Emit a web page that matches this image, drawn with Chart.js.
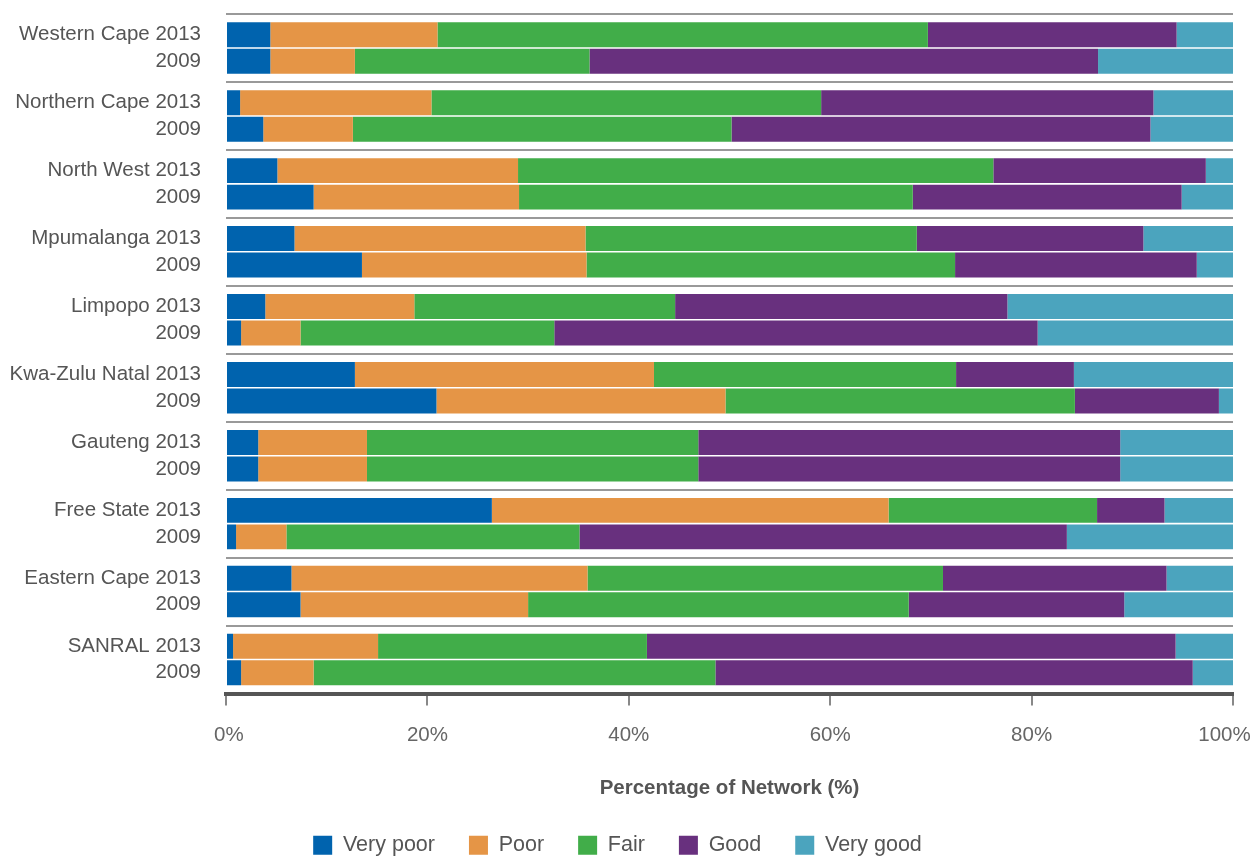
<!DOCTYPE html>
<html>
<head>
<meta charset="utf-8">
<script src="https://cdn.jsdelivr.net/npm/chart.js@4"></script>
<style>
  html, body { margin: 0; padding: 0; background: #fff; }
  #wrap { width: 1253px; height: 856px; }
</style>
</head>
<body>
<div id="wrap"><canvas id="chart" width="1253" height="856"></canvas></div>
<script>
    // === Data ===
    const regions = ["Western Cape", "Northern Cape", "North West", "Mpumalanga", "Limpopo",
      "Kwa-Zulu Natal", "Gauteng", "Free State", "Eastern Cape", "SANRAL"];
    const years = ["2013", "2009"];
    const conditions = ["Very poor", "Poor", "Fair", "Good", "Very good"];
    const colors = ["#0063ae", "#e59546", "#41ad49", "#68307e", "#4ba4be"];

    const veryPoor2013 = [4.4, 1.4, 5.1, 6.8, 3.9, 12.8, 3.2, 26.4, 6.5, 0.7];
    const poor2013 = [16.6, 19.0, 23.9, 28.9, 14.8, 29.7, 10.8, 39.4, 29.4, 14.4];
    const fair2013 = [48.7, 38.7, 47.2, 32.9, 25.9, 30.0, 32.9, 20.7, 35.3, 26.7];
    const good2013 = [24.7, 33.0, 21.1, 22.5, 33.0, 11.7, 41.9, 6.7, 22.2, 52.5];
    const veryGood2013 = [5.6, 7.9, 2.7, 8.9, 22.4, 15.8, 11.2, 6.8, 6.6, 5.7];

    const veryPoor2009 = [4.4, 3.7, 8.7, 13.5, 1.5, 20.9, 3.2, 1.0, 7.4, 1.5];
    const poor2009 = [8.4, 8.9, 20.4, 22.3, 5.9, 28.7, 10.8, 5.0, 22.6, 7.2];
    const fair2009 = [23.3, 37.6, 39.1, 36.6, 25.2, 34.7, 32.9, 29.1, 37.8, 39.9];
    const good2009 = [50.5, 41.6, 26.7, 24.0, 48.0, 14.3, 41.9, 48.4, 21.4, 47.4];
    const veryGood2009 = [13.4, 8.2, 5.1, 3.6, 19.4, 1.4, 11.2, 16.5, 10.8, 4.0];

    const xTicks = [0, 20, 40, 60, 80, 100];

    const series = {
      "2013": [veryPoor2013, poor2013, fair2013, good2013, veryGood2013],
      "2009": [veryPoor2009, poor2009, fair2009, good2009, veryGood2009]
    };

    const FONT = "'Liberation Sans', Arial, Helvetica, sans-serif";

    // === Build datasets ===
    const datasets = [];
    years.forEach(year => {
      conditions.forEach((name, i) => {
        datasets.push({
          label: name,
          data: series[year][i],
          backgroundColor: colors[i],
          borderWidth: 0,
          stack: year,
          barPercentage: 0.943,
          categoryPercentage: 0.78
        });
      });
    });

    const labels = regions.map(r => [r + " " + years[0], years[1]]);

    // first and last x labels sit slightly inside the plot, like the original
    function xLabel(v) {
      if (v === 0) return " " + v + "%";
      if (v === 100) return v + "%   ";
      return v + "%";
    }

    new Chart(document.getElementById("chart").getContext("2d"), {
      type: "bar",
      data: { labels, datasets },
      options: {
        indexAxis: "y",
        responsive: false,
        animation: false,
        layout: { padding: { left: 0, right: 18, top: 14, bottom: -10 } },
        plugins: {
          tooltip: { enabled: false },
          legend: {
            position: "bottom",
            labels: {
              filter: item => item.datasetIndex < conditions.length,
              boxWidth: 19,
              boxHeight: 19,
              padding: 34,
              color: "#555",
              font: { family: FONT, size: 21.5 }
            }
          }
        },
        scales: {
          y: {
            stacked: true,
            border: { display: false },
            grid: { color: "#999", lineWidth: 2, drawTicks: false },
            ticks: {
              color: "#555",
              padding: 25,
              font: { family: FONT, size: 20.5, lineHeight: "26.5px" }
            },
            afterFit: s => {
              s.width = 226;
              s.paddingTop = 0;
              s.paddingBottom = 0;
            }
          },
          x: {
            stacked: true,
            min: 0,
            max: 100,
            afterBuildTicks: s => { s.ticks = xTicks.map(v => ({ value: v })); },
            border: { display: true, color: "#555", width: 4 },
            grid: { drawOnChartArea: false, drawTicks: true, tickLength: 12, color: "#888", lineWidth: 2 },
            ticks: {
              color: "#666",
              padding: 18,
              font: { family: FONT, size: 20.5 },
              callback: v => xLabel(v)
            },
            title: {
              display: true,
              text: "Percentage of Network (%)",
              color: "#555",
              padding: { top: 0, bottom: 0 },
              font: { family: FONT, size: 20.5, weight: "bold" }
            },
            afterFit: s => {
              s.height = 107;
              s.paddingLeft = 0;
              s.paddingRight = 20;
            }
          }
        }
      }
    });
</script>
</body>
</html>
